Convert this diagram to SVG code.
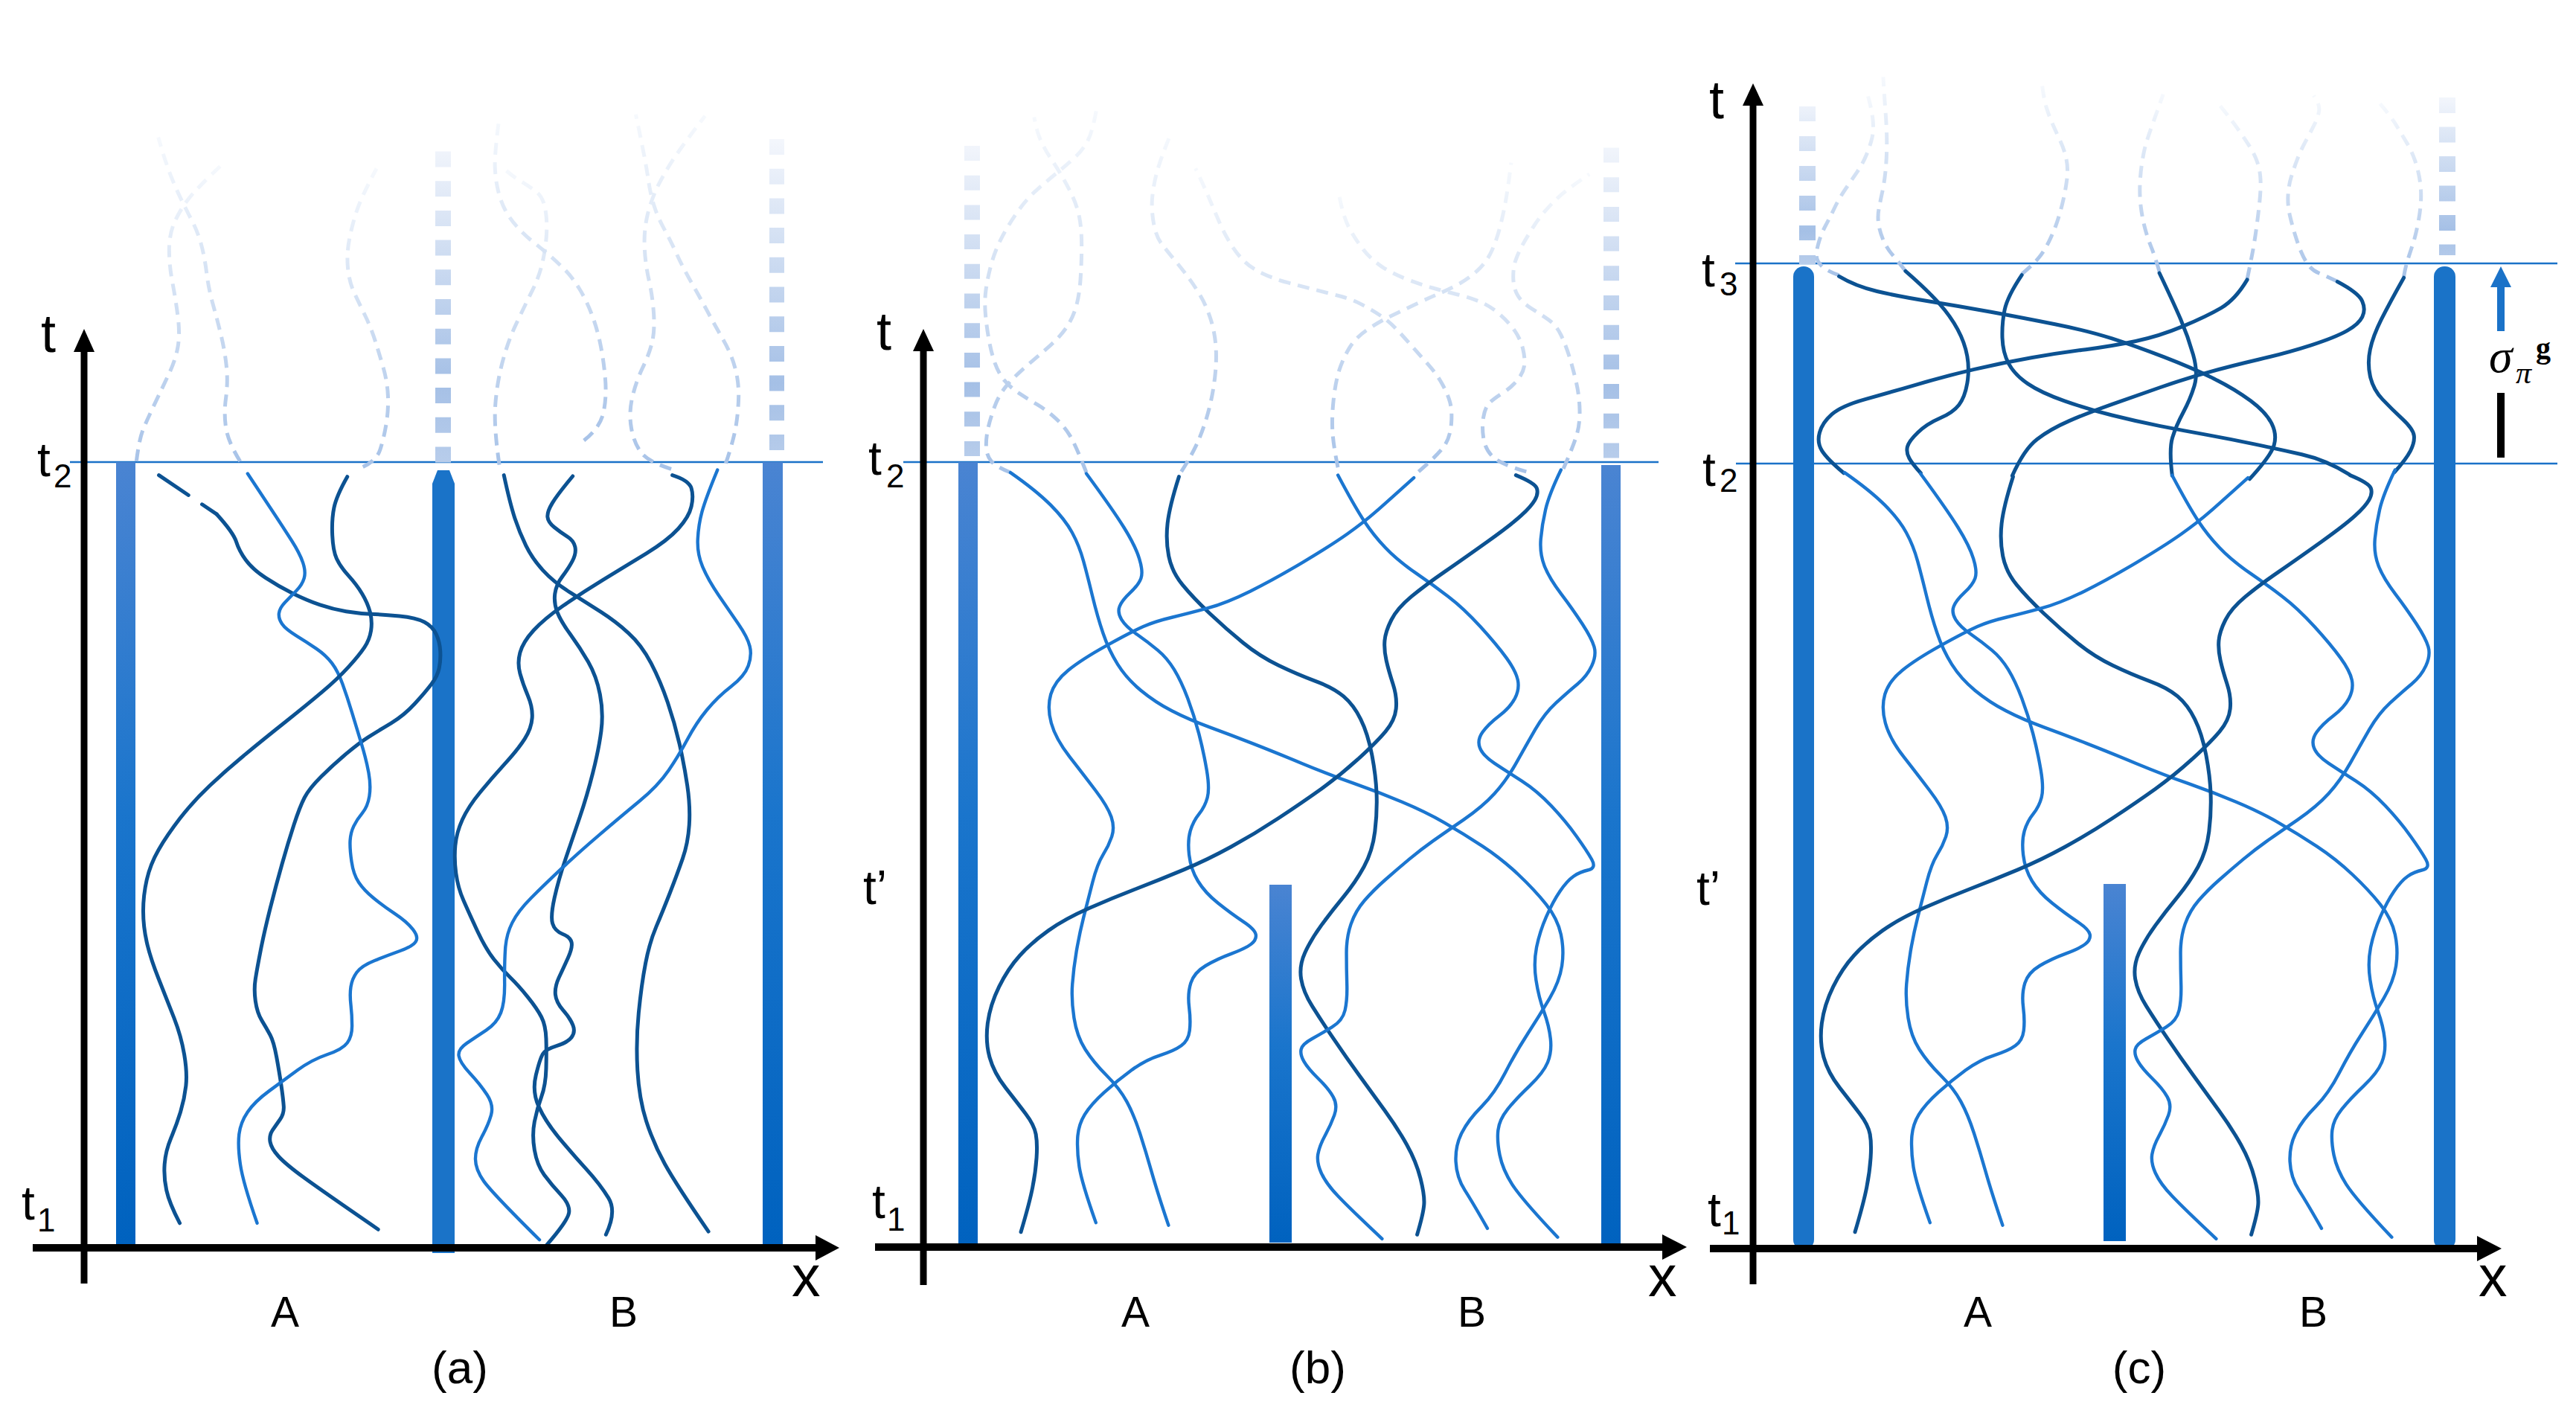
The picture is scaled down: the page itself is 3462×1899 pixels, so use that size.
<svg xmlns="http://www.w3.org/2000/svg" xmlns:xlink="http://www.w3.org/1999/xlink" width="3462" height="1899" viewBox="0 0 3462 1899">
<defs>
<style>
.cv{fill:none;vector-effect:non-scaling-stroke;stroke-linecap:round;stroke-linejoin:round}
.dk{stroke:#0c5292;stroke-width:5}
.md{stroke:#1b76d0;stroke-width:4.4}
.ds{fill:none;vector-effect:non-scaling-stroke;stroke:url(#fadeG);stroke-width:5;stroke-dasharray:16 10}
.tl{stroke:#1a72c8;stroke-width:2.6}
.ax{stroke:#000;stroke-width:9}
.xa{stroke:#000;stroke-width:10}
.lbl{font-family:"Liberation Sans",Arial,sans-serif;fill:#000}
.big{font-size:72px}
.tt{font-size:64px}
.sub{font-size:44px}
.ab{font-size:57px;text-anchor:middle}
.cap{font-size:62px;text-anchor:middle}
.xl{font-size:77px}
.bar{fill:url(#barG)}
.solid{fill:#1a73c8}
</style>
<linearGradient id="fadeG" x1="0" y1="1" x2="0" y2="0">
<stop offset="0" stop-color="#a8c3e8"/>
<stop offset="1" stop-color="#f6f9fd"/>
</linearGradient>
<linearGradient id="barG" x1="0" y1="0" x2="0" y2="1">
<stop offset="0" stop-color="#4a84d2"/>
<stop offset="0.45" stop-color="#1a75cc"/>
<stop offset="1" stop-color="#0062bf"/>
</linearGradient>
<linearGradient id="extAB" gradientUnits="userSpaceOnUse" x1="0" y1="190" x2="0" y2="622">
<stop offset="0" stop-color="#f3f6fc"/>
<stop offset="0.75" stop-color="#a5c0e6"/>
<stop offset="1" stop-color="#b8cdeb"/>
</linearGradient>
<linearGradient id="extC" gradientUnits="userSpaceOnUse" x1="0" y1="130" x2="0" y2="356">
<stop offset="0" stop-color="#f3f6fc"/>
<stop offset="0.8" stop-color="#a5c0e6"/>
<stop offset="1" stop-color="#b8cdeb"/>
</linearGradient>
</defs>
<rect width="3462" height="1899" fill="#fff"/>

<!-- ================= PANEL A ================= -->
<g id="panel-a">
<line id="a-t2-line" class="tl" x1="94" y1="621" x2="1106" y2="621"/>
<g id="a-dashed" transform="translate(0,150) scale(0.7334,0.3827)">
<path class="ds" d="M250 1228 Q255 1150 262.5 1115 Q270 1080 285 1020 Q300 960 311 915 Q322 870 326 825 Q330 780 326 720 Q322 660 316 600 Q310 540 310 485 Q310 430 320 387.5 Q330 345 345 307.5 Q360 270 410 180"/>
<path class="ds" d="M440 1228 Q418 1160 414 1110 Q410 1060 414 1005 Q418 950 415 895 Q412 840 405 785 Q398 730 390 675 Q382 620 378.5 565 Q375 510 368.5 465 Q362 420 351 380 Q340 340 330 300 Q320 260 311 215 Q302 170 290 90"/>
<path class="ds" d="M665 1248 Q690 1225 696.5 1187.5 Q703 1150 707.5 1100 Q712 1050 711 1000 Q710 950 702.5 900 Q695 850 687.5 805 Q680 760 670 720 Q660 680 650 640 Q640 600 637.5 550 Q635 500 640 450 Q645 400 653.5 350 Q662 300 690 200"/>
<path class="ds" d="M915 1240 Q905 1110 907.5 1035 Q910 960 920 885 Q930 810 946 745 Q962 680 975 630 Q988 580 994 530 Q1000 480 1001.5 430 Q1003 380 999 340 Q995 300 982.5 281 Q970 262 952.5 242 Q935 222 918 190"/>
<path class="ds" d="M1070 1155 Q1100 1110 1106 1055 Q1112 1000 1109 935 Q1106 870 1100 815 Q1094 760 1084 710 Q1074 660 1061 620 Q1048 580 1035 555 Q1022 530 1008.5 507.5 Q995 485 978.5 460 Q962 435 948.5 406.5 Q935 378 926.5 348 Q918 318 913 279 Q908 240 907 195 Q906 150 915 20"/>
<path class="ds" d="M1330 1235 Q1345 1150 1349 1100 Q1353 1050 1353.5 1000 Q1354 950 1347 900 Q1340 850 1325 800 Q1310 750 1296 700 Q1282 650 1267 600 Q1252 550 1240 500 Q1228 450 1216.5 410 Q1205 370 1198.5 330 Q1192 290 1188.5 245 Q1185 200 1180 150 Q1175 100 1165 10"/>
<path class="ds" d="M1230 1255 Q1188 1230 1175 1197.5 Q1162 1165 1157 1112.5 Q1152 1060 1158.5 1005 Q1165 950 1177.5 900 Q1190 850 1195 810 Q1200 770 1198 710 Q1196 650 1189 590 Q1182 530 1181 470 Q1180 410 1187.5 355 Q1195 300 1208.5 250 Q1222 200 1240 150 Q1258 100 1292 15"/>
</g>
<g id="a-bars">
<line x1="595.5" y1="621.5" x2="595.5" y2="200" stroke="url(#extAB)" stroke-width="21" stroke-dasharray="21 18.7"/>
<line x1="1044" y1="605" x2="1044" y2="185" stroke="url(#extAB)" stroke-width="20" stroke-dasharray="21 18.7"/>
<rect class="bar" x="156" y="621" width="26" height="1051"/>
<path class="solid" d="M581 650 L588 632 L604 632 L611 650 L611 1684 L581 1684 Z"/>
<rect class="bar" x="1025" y="621" width="27" height="1051"/>
</g>
<g id="a-curves" transform="translate(100,600) scale(0.6378,0.7015)">
<path class="cv dk" stroke-dasharray="48 22" d="M178 55 L300 130"/>
<path class="cv dk" d="M300 130 Q335 165 341 182.5 Q347 200 361 217.5 Q375 235 402.5 251.5 Q430 268 460 281.5 Q490 295 517.5 303.5 Q545 312 572.5 316 Q600 320 625 321 Q650 322 685 325 Q720 328 737.5 336.5 Q755 345 762.5 360 Q770 375 771 392.5 Q772 410 768.5 425 Q765 440 752.5 455 Q740 470 717.5 492.5 Q695 515 667.5 530 Q640 545 620 556.5 Q600 568 572.5 589 Q545 610 520 632.5 Q495 655 485 672.5 Q475 690 462.5 725 Q450 760 437.5 800 Q425 840 412.5 885 Q400 930 392.5 965 Q385 1000 381.5 1020 Q378 1040 381.5 1062.5 Q385 1085 395 1100 Q405 1115 412.5 1127.5 Q420 1140 426 1170 Q432 1200 436 1225 Q440 1250 441 1264 Q442 1278 433.5 1289 Q425 1300 417.5 1310 Q410 1320 412.5 1332.5 Q415 1345 430 1360 Q445 1375 482.5 1400 Q520 1425 640 1500"/>
<path class="cv md" d="M365 52 Q400 100 420 127.5 Q440 155 457.5 180 Q475 205 481.5 222.5 Q488 240 484 252.5 Q480 265 467.5 276.5 Q455 288 443.5 299 Q432 310 431 320 Q430 330 437.5 340 Q445 350 467.5 362.5 Q490 375 510 387.5 Q530 400 542.5 415 Q555 430 565 455 Q575 480 585 510 Q595 540 605 570 Q615 600 620 625 Q625 650 621.5 670 Q618 690 606.5 702.5 Q595 715 588.5 727.5 Q582 740 581 755 Q580 770 584 795 Q588 820 599 835 Q610 850 630 865 Q650 880 675 895 Q700 910 713 925 Q726 940 719 949 Q712 958 686 966.5 Q660 975 632.5 985 Q605 995 595 1007.5 Q585 1020 582.5 1035 Q580 1050 582.5 1070 Q585 1090 585 1110 Q585 1130 575 1142.5 Q565 1155 532.5 1165 Q500 1175 470 1195 Q440 1215 410 1235 Q380 1255 365 1275 Q350 1295 347 1317.5 Q344 1340 349.5 1375 Q355 1410 385 1488"/>
<path class="cv dk" d="M575 58 Q552 95 547 117.5 Q542 140 543.5 170 Q545 200 552.5 215 Q560 230 577.5 247.5 Q595 265 606.5 282.5 Q618 300 623 317.5 Q628 335 625 352.5 Q622 370 611 385 Q600 400 577.5 422.5 Q555 445 522.5 470 Q490 495 445 527.5 Q400 560 360 590 Q320 620 285 650 Q250 680 222.5 712.5 Q195 745 177.5 772.5 Q160 800 152.5 830 Q145 860 145 890 Q145 920 152.5 950 Q160 980 177.5 1020 Q195 1060 210 1095 Q225 1130 231.5 1165 Q238 1200 235 1225 Q232 1250 223.5 1275 Q215 1300 203.5 1325 Q192 1350 190 1375 Q188 1400 194 1425 Q200 1450 222 1488"/>
<path class="cv dk" d="M905 55 Q918 110 928 137.5 Q938 165 951.5 190 Q965 215 987.5 237.5 Q1010 260 1045 280 Q1080 300 1110 317.5 Q1140 335 1167.5 357.5 Q1195 380 1215 415 Q1235 450 1250 490 Q1265 530 1275 570 Q1285 610 1291.5 650 Q1298 690 1295.5 725 Q1293 760 1281.5 790 Q1270 820 1255 855 Q1240 890 1226 920 Q1212 950 1203.5 990 Q1195 1030 1189 1085 Q1183 1140 1186.5 1195 Q1190 1250 1205 1292.5 Q1220 1335 1244 1374.5 Q1268 1414 1336 1504"/>
<path class="cv dk" d="M1050 57 Q1018 92 1007 108.5 Q996 125 997 135 Q998 145 1011.5 155 Q1025 165 1038.5 172.5 Q1052 180 1055 192.5 Q1058 205 1049 220 Q1040 235 1027.5 250 Q1015 265 1012.5 282.5 Q1010 300 1017.5 317.5 Q1025 335 1045 360 Q1065 385 1082.5 412.5 Q1100 440 1107.5 475 Q1115 510 1110 545 Q1105 580 1092.5 625 Q1080 670 1065 710 Q1050 750 1035 790 Q1020 830 1011.5 865 Q1003 900 1007.5 914 Q1012 928 1028.5 934 Q1045 940 1047.5 950 Q1050 960 1040 980 Q1030 1000 1021 1017.5 Q1012 1035 1013.5 1050 Q1015 1065 1030 1080.5 Q1045 1096 1050.5 1109 Q1056 1122 1047.5 1132 Q1039 1142 1016 1148.5 Q993 1155 987 1164 Q981 1173 972.5 1204.5 Q964 1236 978.5 1265 Q993 1294 1022 1325.5 Q1051 1357 1079.5 1385.5 Q1108 1414 1125.5 1440 Q1143 1466 1120 1510"/>
<path class="cv dk" d="M1260 55 Q1295 65 1300 80 Q1305 95 1300 115 Q1295 135 1272.5 157.5 Q1250 180 1205 205 Q1160 230 1115 255 Q1070 280 1030 305 Q990 330 967.5 352.5 Q945 375 939 395 Q933 415 939 435 Q945 455 955.5 477.5 Q966 500 964.5 520 Q963 540 949 560 Q935 580 907.5 607.5 Q880 635 855 662.5 Q830 690 817.5 715 Q805 740 802.5 765 Q800 790 804 817.5 Q808 845 820 870 Q832 895 849.5 929 Q867 963 884 982.5 Q901 1002 918.5 1017.5 Q936 1033 955.5 1055 Q975 1077 984 1093 Q993 1109 994 1134.5 Q995 1160 994 1192 Q993 1224 984 1246 Q975 1268 969.5 1293.5 Q964 1319 969.5 1348 Q975 1377 990 1395.5 Q1005 1414 1025 1433.5 Q1045 1453 1042 1468.5 Q1039 1484 995 1530"/>
<path class="cv md" d="M1355 45 Q1330 100 1322.5 125 Q1315 150 1313.5 177.5 Q1312 205 1323.5 230 Q1335 255 1357.5 285 Q1380 315 1399 340 Q1418 365 1423 382.5 Q1428 400 1420 420 Q1412 440 1383.5 460 Q1355 480 1332.5 505 Q1310 530 1292.5 560 Q1275 590 1252.5 620 Q1230 650 1190 680 Q1150 710 1105 745 Q1060 780 1025 810 Q990 840 962.5 865 Q935 890 922.5 912.5 Q910 935 908 962.5 Q906 990 906.5 1027.5 Q907 1065 898.5 1085 Q890 1105 867.5 1118.5 Q845 1132 826.5 1143.5 Q808 1155 810 1167.5 Q812 1180 833.5 1201 Q855 1222 869.5 1242 Q884 1262 878 1281 Q872 1300 858.5 1322.5 Q845 1345 845 1365 Q845 1385 862.5 1407.5 Q880 1430 980 1520"/>
</g>
<g id="a-axes">
<line class="ax" x1="113" y1="1725" x2="113" y2="468"/>
<polygon points="113,442 99,473 127,473"/>
<line class="xa" x1="44" y1="1677" x2="1100" y2="1677"/>
<polygon points="1128,1677 1096,1660 1096,1694"/>
</g>
<g id="a-labels" class="lbl">
<text class="big" x="55" y="473">t</text>
<text x="50" y="640"><tspan class="tt">t</tspan><tspan class="sub" x="72" y="655">2</tspan></text>
<text x="29" y="1639"><tspan class="tt">t</tspan><tspan class="sub" x="50" y="1655">1</tspan></text>
<text class="xl" x="1064" y="1742">x</text>
<text class="ab" x="383" y="1783">A</text>
<text class="ab" x="838" y="1783">B</text>
<text class="cap" x="618" y="1859">(a)</text>
</g>
</g>

<!-- ================= PANEL B ================= -->
<g id="panel-b">
<line id="b-t2-line" class="tl" x1="1214" y1="621" x2="2229" y2="621"/>
<g id="b-dashed" transform="translate(1240,100) scale(0.6378,0.3827)">
<path class="ds" d="M185 1398 Q155 1378 145 1359 Q135 1340 134 1310 Q133 1280 137.5 1245 Q142 1210 152 1165 Q162 1120 181 1085 Q200 1050 225 1015 Q250 980 270 950 Q290 920 302.5 890 Q315 860 322.5 820 Q330 780 332.5 720 Q335 660 335 600 Q335 540 330 500 Q325 460 315 425 Q305 390 293.5 357.5 Q282 325 270 295 Q258 265 249 232.5 Q240 200 235 150"/>
<path class="ds" d="M345 1398 Q322 1300 310 1267.5 Q298 1235 280 1207.5 Q262 1180 242 1160 Q222 1140 203.5 1120 Q185 1100 172.5 1075 Q160 1050 152.5 1015 Q145 980 140 935 Q135 890 132.5 845 Q130 800 133 760 Q136 720 144 670 Q152 620 166 575 Q180 530 200 482.5 Q220 435 242.5 402.5 Q265 370 283.5 345 Q302 320 320 292.5 Q338 265 348 232.5 Q358 200 366 125"/>
<path class="ds" d="M545 1395 Q570 1330 582.5 1280 Q595 1230 603.5 1175 Q612 1120 616 1060 Q620 1000 617.5 950 Q615 900 606 855 Q597 810 584.5 775 Q572 740 558.5 710 Q545 680 530 650 Q515 620 503.5 595 Q492 570 487 525 Q482 480 483.5 440 Q485 400 492.5 350 Q500 300 525 200"/>
<path class="ds" d="M875 1380 Q865 1300 863.5 1250 Q862 1200 866 1140 Q870 1080 877.5 1040 Q885 1000 898.5 962.5 Q912 925 936 897.5 Q960 870 985 850 Q1010 830 1035 810 Q1060 790 1082.5 774 Q1105 758 1127.5 738 Q1150 718 1169 689 Q1188 660 1199 620 Q1210 580 1217.5 530 Q1225 480 1230 430 Q1235 380 1240 310"/>
<path class="ds" d="M1045 1395 Q1090 1330 1101 1300 Q1112 1270 1114 1225 Q1116 1180 1111 1150 Q1106 1120 1094 1085 Q1082 1050 1066 1020 Q1050 990 1034 960 Q1018 930 1001.5 900 Q985 870 966.5 849 Q948 828 926.5 809 Q905 790 882.5 780 Q860 770 830 757.5 Q800 745 770 731.5 Q740 718 716 699 Q692 680 677 655 Q662 630 649 595 Q636 560 625.5 520 Q615 480 605 440 Q595 400 575 330"/>
<path class="ds" d="M1272 1395 Q1220 1370 1203 1345 Q1186 1320 1182 1280 Q1178 1240 1181.5 1205 Q1185 1170 1193.5 1155 Q1202 1140 1221 1120 Q1240 1100 1252.5 1075 Q1265 1050 1267.5 1025 Q1270 1000 1265 965 Q1260 930 1247.5 900 Q1235 870 1215 841 Q1195 812 1172.5 797 Q1150 782 1125 772 Q1100 762 1075 750 Q1050 738 1020 719 Q990 700 967.5 675 Q945 650 928.5 615 Q912 580 899 540 Q886 500 877 420"/>
<path class="ds" d="M1350 1385 Q1370 1310 1377.5 1270 Q1385 1230 1384.5 1180 Q1384 1130 1377 1080 Q1370 1030 1362.5 990 Q1355 950 1345 915 Q1335 880 1317.5 860 Q1300 840 1281 820 Q1262 800 1253.5 775 Q1245 750 1244.5 715 Q1244 680 1249 655 Q1254 630 1262 605 Q1270 580 1285 540 Q1300 500 1319 466 Q1338 432 1354 411 Q1370 390 1405 350"/>
</g>
<g id="b-bars">
<line x1="1306.5" y1="613" x2="1306.5" y2="195" stroke="url(#extAB)" stroke-width="21" stroke-dasharray="20 19.7"/>
<line x1="2165.5" y1="615.5" x2="2165.5" y2="197" stroke="url(#extAB)" stroke-width="21" stroke-dasharray="20 19.7"/>
<rect class="bar" x="1288" y="621" width="26" height="1056"/>
<rect class="bar" x="1706" y="1189" width="30" height="481"/>
<rect class="bar" x="2152" y="625" width="26" height="1055"/>
</g>
<g id="b-curves">
<g transform="translate(1240,600) scale(0.6378,0.7015)">
<path class="cv md" d="M185 50 Q240 85 270 112.5 Q300 140 315 165 Q330 190 339 220 Q348 250 358 287.5 Q368 325 380 357.5 Q392 390 411 417.5 Q430 445 460 467.5 Q490 490 525 506.5 Q560 523 605 538 Q650 553 695 569 Q740 585 800 607.5 Q860 630 910 646 Q960 662 1010 681 Q1060 700 1100 721 Q1140 742 1180 766 Q1220 790 1255 820 Q1290 850 1314 877.5 Q1338 905 1345 935 Q1352 965 1347 995 Q1342 1025 1321 1057.5 Q1300 1090 1275 1125 Q1250 1160 1227.5 1200 Q1205 1240 1177.5 1265 Q1150 1290 1136 1315 Q1122 1340 1123.5 1370 Q1125 1400 1142.5 1425 Q1160 1450 1190 1498"/>
<path class="cv md" d="M345 52 Q400 120 424 155 Q448 190 456.5 215 Q465 240 460 252.5 Q455 265 437.5 280 Q420 295 415 306.5 Q410 318 419 331.5 Q428 345 451.5 360 Q475 375 495 390 Q515 405 530 427.5 Q545 450 558.5 482.5 Q572 515 582 550 Q592 585 598.5 620 Q605 655 600 672.5 Q595 690 582.5 704 Q570 718 564 736.5 Q558 755 561.5 782.5 Q565 810 580 832.5 Q595 855 622.5 875 Q650 895 675 910 Q700 925 702 935 Q704 945 692 953.5 Q680 962 650 972 Q620 982 596 995 Q572 1008 565 1028 Q558 1048 561.5 1074 Q565 1100 562.5 1119 Q560 1138 545 1148 Q530 1158 500 1166.5 Q470 1175 440 1195 Q410 1215 382.5 1237.5 Q355 1260 341.5 1280 Q328 1300 326.5 1325 Q325 1350 330 1380 Q335 1410 365 1487"/>
<path class="cv dk" d="M540 58 Q520 115 516 147.5 Q512 180 518.5 210 Q525 240 547.5 265 Q570 290 605 320 Q640 350 675 376 Q710 402 750 419.5 Q790 437 827.5 449.5 Q865 462 886.5 478.5 Q908 495 923 522.5 Q938 550 946.5 590 Q955 630 956.5 665 Q958 700 953 737.5 Q948 775 930 805 Q912 835 887 862.5 Q862 890 840 917.5 Q818 945 805.5 970 Q793 995 797.5 1020 Q802 1045 821 1072.5 Q840 1100 866 1135 Q892 1170 920 1205 Q948 1240 974 1272.5 Q1000 1305 1020 1337.5 Q1040 1370 1049 1402.5 Q1058 1435 1056.5 1452.5 Q1055 1470 1042 1510"/>
<path class="cv md" d="M875 55 Q910 115 930 142.5 Q950 170 975 194 Q1000 218 1037.5 241.5 Q1075 265 1107.5 287.5 Q1140 310 1175 345 Q1210 380 1230 405 Q1250 430 1254 447.5 Q1258 465 1248 482.5 Q1238 500 1215 516 Q1192 532 1180 547 Q1168 562 1174 577 Q1180 592 1205 607 Q1230 622 1262.5 641 Q1295 660 1325 689 Q1355 718 1377.5 746.5 Q1400 775 1410 791.5 Q1420 808 1402.5 811.5 Q1385 815 1371.5 823.5 Q1358 832 1343 852 Q1328 872 1314 901 Q1300 930 1293.5 960 Q1287 990 1292.5 1022.5 Q1298 1055 1309 1082.5 Q1320 1110 1323 1135 Q1326 1160 1317 1180 Q1308 1200 1279 1225 Q1250 1250 1232.5 1270 Q1215 1290 1212.5 1310 Q1210 1330 1216 1357.5 Q1222 1385 1242 1413.5 Q1262 1442 1338 1515"/>
<path class="cv md" d="M1035 60 Q980 105 955 125 Q930 145 895 167.5 Q860 190 800 222.5 Q740 255 690 277.5 Q640 300 600 310 Q560 320 525 327.5 Q490 335 465 345 Q440 355 387.5 381.5 Q335 408 306.5 429 Q278 450 270 475 Q262 500 271 530 Q280 560 310 595 Q340 630 365 660 Q390 690 397.5 710 Q405 730 398.5 747.5 Q392 765 380 782.5 Q368 800 358 835 Q348 870 339 902.5 Q330 935 324 967.5 Q318 1000 315.5 1030 Q313 1060 319 1095 Q325 1130 342.5 1155 Q360 1180 387.5 1205 Q415 1230 430 1255 Q445 1280 457.5 1315 Q470 1350 482.5 1390 Q495 1430 518 1492"/>
<path class="cv dk" d="M1250 55 Q1290 70 1294 80 Q1298 90 1290 102.5 Q1282 115 1261 132.5 Q1240 150 1190 182.5 Q1140 215 1100 240 Q1060 265 1030 287.5 Q1000 310 987.5 332.5 Q975 355 973.5 372.5 Q972 390 977 410 Q982 430 991 455 Q1000 480 997.5 502.5 Q995 525 975 546.5 Q955 568 917.5 599 Q880 630 840 656 Q800 682 750 712 Q700 742 650 767 Q600 792 550 811 Q500 830 450 847.5 Q400 865 350 885 Q300 905 265 927.5 Q230 950 205 975 Q180 1000 161 1035 Q142 1070 137 1105 Q132 1140 141 1170 Q150 1200 175 1229 Q200 1258 217.5 1279 Q235 1300 238.5 1317.5 Q242 1335 240 1362.5 Q238 1390 231.5 1420 Q225 1450 207 1505"/>
<path class="cv md" d="M1345 45 Q1320 92 1312.5 121 Q1305 150 1302.5 177.5 Q1300 205 1310 228.5 Q1320 252 1345 282 Q1370 312 1390 340 Q1410 368 1415 384 Q1420 400 1410 420 Q1400 440 1380 455 Q1360 470 1335 491 Q1310 512 1291 542 Q1272 572 1251 606 Q1230 640 1205 665 Q1180 690 1140 715 Q1100 740 1075 756 Q1050 772 1025 791 Q1000 810 975 830 Q950 850 931 870 Q912 890 902.5 915 Q893 940 893 970 Q893 1000 894 1030 Q895 1060 890 1080 Q885 1100 862.5 1112.5 Q840 1125 820 1135 Q800 1145 797.5 1155 Q795 1165 803.5 1178.5 Q812 1192 833.5 1211 Q855 1230 865 1246 Q875 1262 867.5 1281 Q860 1300 848 1320 Q836 1340 833 1356 Q830 1372 840 1392 Q850 1412 875 1436 Q900 1460 968 1518"/>
</g>
</g>
<g id="b-axes">
<line class="ax" x1="1241" y1="1727" x2="1241" y2="468"/>
<polygon points="1241,442 1227,472 1255,472"/>
<line class="xa" x1="1176" y1="1676" x2="2238" y2="1676"/>
<polygon points="2267,1676 2234,1659 2234,1693"/>
</g>
<g id="b-labels" class="lbl">
<text class="big" x="1178" y="470">t</text>
<text x="1167" y="638"><tspan class="tt">t</tspan><tspan class="sub" x="1191" y="655">2</tspan></text>
<text class="tt" x="1160" y="1215">t’</text>
<text x="1172" y="1637"><tspan class="tt">t</tspan><tspan class="sub" x="1192" y="1654">1</tspan></text>
<text class="xl" x="2215" y="1742">x</text>
<text class="ab" x="1526" y="1783">A</text>
<text class="ab" x="1978" y="1783">B</text>
<text class="cap" x="1771" y="1859">(b)</text>
</g>
</g>

<!-- ================= PANEL C ================= -->
<g id="panel-c">
<line id="c-t3-line" class="tl" x1="2332" y1="354" x2="3437" y2="354"/>
<line id="c-t2-line" class="tl" x1="2333" y1="623" x2="3437" y2="623"/>
<g id="c-dashed" transform="translate(2360,50) scale(0.6378,0.3333)">
<path class="ds" d="M175 960 Q150 943 139 924 Q128 905 127.5 882.5 Q127 860 132.5 825 Q138 790 146.5 760 Q155 730 165 690 Q175 650 187.5 615 Q200 580 212.5 545 Q225 510 232.5 475 Q240 440 244 410 Q248 380 246.5 340 Q245 300 235 230"/>
<path class="ds" d="M315 943 Q300 905 287.5 877.5 Q275 850 267.5 815 Q260 780 258 750 Q256 720 259 690 Q262 660 266 625 Q270 590 272.5 545 Q275 500 275.5 450 Q276 400 274.5 350 Q273 300 271.5 265 Q270 230 268 160"/>
<path class="ds" d="M560 955 Q585 915 596.5 887.5 Q608 860 617 825 Q626 790 633 752.5 Q640 715 646 667.5 Q652 620 655 575 Q658 530 654 492.5 Q650 455 641.5 420 Q633 385 625.5 352.5 Q618 320 612.5 287.5 Q607 255 603 195"/>
<path class="ds" d="M850 945 Q840 880 832.5 845 Q825 810 819.5 770 Q814 730 811 685 Q808 640 809 592.5 Q810 545 814 497.5 Q818 450 824 415 Q830 380 837.5 340 Q845 300 858 230"/>
<path class="ds" d="M1035 975 Q1042 910 1046 870 Q1050 830 1054 775 Q1058 720 1061 665 Q1064 610 1063 572.5 Q1062 535 1056 502.5 Q1050 470 1040 440 Q1030 410 1019 380 Q1008 350 999 327.5 Q990 305 975 270"/>
<path class="ds" d="M1225 985 Q1200 962 1186 951 Q1172 940 1163.5 917.5 Q1155 895 1148.5 865 Q1142 835 1136 797.5 Q1130 760 1125 720 Q1120 680 1121 640 Q1122 600 1127.5 565 Q1133 530 1140.5 492.5 Q1148 455 1158 420 Q1168 385 1176.5 352.5 Q1185 320 1186.5 295 Q1188 270 1175 235"/>
<path class="ds" d="M1365 965 Q1368 930 1372.5 902.5 Q1377 875 1383.5 837.5 Q1390 800 1395 750 Q1400 700 1401 660 Q1402 620 1399 580 Q1396 540 1389 500 Q1382 460 1371 425 Q1360 390 1349 355 Q1338 320 1315 268"/>
</g>
<g id="c-bars">
<line x1="2429" y1="143" x2="2429" y2="355" stroke="url(#extC)" stroke-width="22" stroke-dasharray="20 20"/>
<line x1="3289" y1="131" x2="3289" y2="343" stroke="url(#extC)" stroke-width="22" stroke-dasharray="21 18.5"/>
<rect class="solid" x="2410" y="358" width="28" height="1322" rx="14"/>
<rect class="solid" x="3271" y="358" width="29" height="1322" rx="14"/>
<rect class="bar" x="2827" y="1188" width="30" height="480"/>
</g>
<g id="c-curves">
<g transform="translate(2360,300) scale(0.6378,0.8929)">
<path class="cv dk" d="M175 80 Q210 95 255 102.5 Q300 110 365 117.5 Q430 125 495 133.5 Q560 142 630 152 Q700 162 750 173.5 Q800 185 860 201.5 Q920 218 965 234 Q1010 250 1042.5 267.5 Q1075 285 1086.5 301.5 Q1098 318 1091.5 334 Q1085 350 1040 385"/>
<path class="cv dk" d="M315 72 Q360 100 385 120 Q410 140 425 160 Q440 180 445 200 Q450 220 445 241 Q440 262 427.5 273.5 Q415 285 387.5 293.5 Q360 302 341 315 Q322 328 319 336.5 Q316 345 323 354 Q330 363 347 376"/>
<path class="cv dk" d="M560 78 Q530 110 524 130 Q518 150 519 172.5 Q520 195 532.5 211.5 Q545 228 572.5 241.5 Q600 255 650 267.5 Q700 280 750 289 Q800 298 850 305 Q900 312 950 318.5 Q1000 325 1050 332.5 Q1100 340 1150 348 Q1200 356 1250 378"/>
<path class="cv dk" d="M850 75 Q880 120 895 145 Q910 170 921 197.5 Q932 225 923.5 245 Q915 265 900 285 Q885 305 877.5 322.5 Q870 340 877 380"/>
<path class="cv dk" d="M1035 85 Q1010 115 980 127.5 Q950 140 900 155 Q850 170 800 177.5 Q750 185 695 190 Q640 195 580 202.5 Q520 210 460 220 Q400 230 340 242.5 Q280 255 230 265 Q180 275 160 287.5 Q140 300 134 315 Q128 330 139 342.5 Q150 355 185 376"/>
<path class="cv dk" d="M1225 88 Q1270 105 1277.5 117.5 Q1285 130 1277.5 141 Q1270 152 1245 162 Q1220 172 1170 183.5 Q1120 195 1060 205 Q1000 215 950 225 Q900 235 850 247.5 Q800 260 750 272.5 Q700 285 660 297.5 Q620 310 592.5 325 Q565 340 540 380"/>
<path class="cv dk" d="M1365 82 Q1335 120 1317.5 145 Q1300 170 1294 190 Q1288 210 1294 230 Q1300 250 1320 265 Q1340 280 1362.5 295 Q1385 310 1386.5 320 Q1388 330 1379 342.5 Q1370 355 1345 375"/>
</g>
<use href="#b-curves" xlink:href="#b-curves" transform="translate(1121,0)"/>
</g>
<g id="c-sigma">
<rect x="3356" y="384" width="10" height="61" fill="#1a72c8"/>
<polygon points="3361,358 3347,386 3375,386" fill="#1a72c8"/>
<rect x="3356" y="528" width="10" height="87" fill="#000"/>
<text x="3345" y="500" font-family="Liberation Serif,serif" font-style="italic" font-size="64">σ</text>
<text x="3381" y="515" font-family="Liberation Serif,serif" font-style="italic" font-size="42">π</text>
<text x="3408" y="481" font-family="Liberation Serif,serif" font-weight="bold" font-size="40">g</text>
</g>
<g id="c-axes">
<line class="ax" x1="2356" y1="1726" x2="2356" y2="138"/>
<polygon points="2356,112 2342,142 2370,142"/>
<line class="xa" x1="2298" y1="1678" x2="3333" y2="1678"/>
<polygon points="3362,1678 3329,1661 3329,1695"/>
</g>
<g id="c-labels" class="lbl">
<text class="big" x="2297" y="159">t</text>
<text x="2287" y="385"><tspan class="tt">t</tspan><tspan class="sub" x="2311" y="397">3</tspan></text>
<text x="2288" y="653"><tspan class="tt">t</tspan><tspan class="sub" x="2311" y="661">2</tspan></text>
<text class="tt" x="2280" y="1216">t’</text>
<text x="2295" y="1648"><tspan class="tt">t</tspan><tspan class="sub" x="2314" y="1659">1</tspan></text>
<text class="xl" x="3331" y="1742">x</text>
<text class="ab" x="2658" y="1783">A</text>
<text class="ab" x="3109" y="1783">B</text>
<text class="cap" x="2875" y="1859">(c)</text>
</g>
</g>
</svg>
